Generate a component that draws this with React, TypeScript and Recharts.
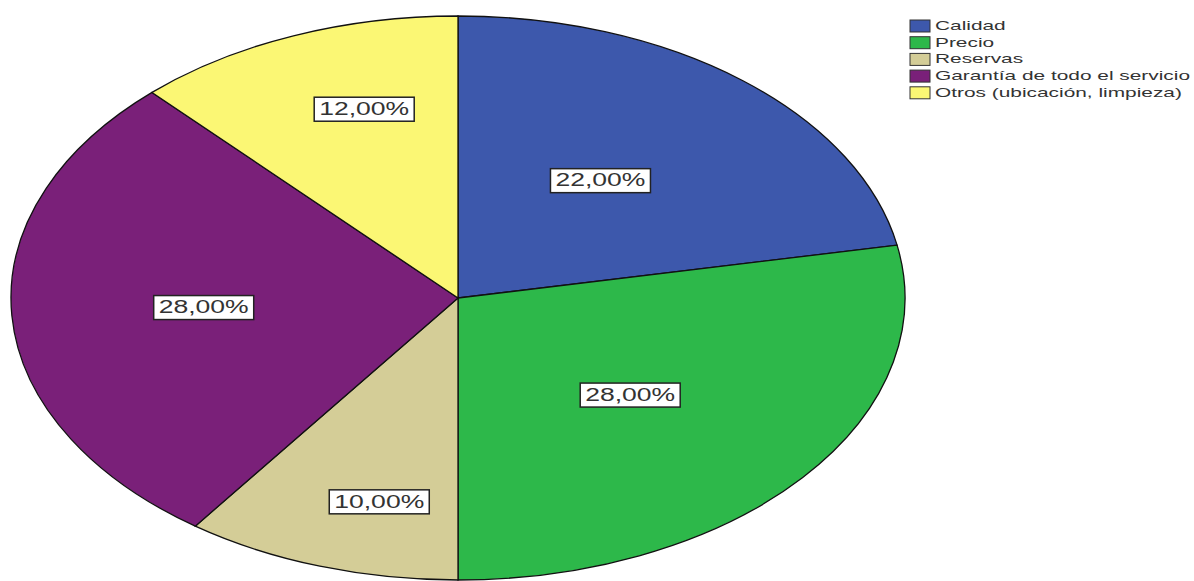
import React from 'react';
import { PieChart, Pie, Cell, Legend } from 'recharts';

const categories = [
  'Calidad',
  'Precio',
  'Reservas',
  'Garantía de todo el servicio',
  'Otros (ubicación, limpieza)',
];
const percents = [22, 28, 10, 28, 12];
const colors = ['#3D58AC', '#2DB84A', '#D4CD97', '#7A2079', '#FBF774'];

const data = categories.map((name, i) => ({ name, value: percents[i] }));

const RAD = Math.PI / 180;
// SPSS draws the pie squashed into an ellipse
const X_STRETCH = 447 / 282;

const EllipseSector = (props: any) => {
  const { cx, cy, outerRadius, startAngle, endAngle, fill } = props;
  const rx = outerRadius * X_STRETCH;
  const ry = outerRadius;
  const pt = (a: number) => [cx + rx * Math.cos(-a * RAD), cy + ry * Math.sin(-a * RAD)];
  const [x1, y1] = pt(startAngle);
  const [x2, y2] = pt(endAngle);
  const large = Math.abs(endAngle - startAngle) > 180 ? 1 : 0;
  const sweep = startAngle > endAngle ? 1 : 0;
  return (
    <path
      d={`M${cx},${cy} L${x1},${y1} A${rx},${ry} 0 ${large} ${sweep} ${x2},${y2} Z`}
      fill={fill}
      stroke="#111"
      strokeWidth={1.3}
    />
  );
};

const renderLabel = (props: any) => {
  const { cx, cy, midAngle, outerRadius, value } = props;
  const p = value / 100;
  const c = Math.cos(-midAngle * RAD);
  const s = Math.sin(-midAngle * RAD);
  // small slices push their label further out, as SPSS does
  const fx = c > 0 ? 0.5 : 0.57;
  const fy = Math.max(0.54, 0.96 - 2 * p);
  const x = cx + outerRadius * X_STRETCH * fx * c;
  const y = cy + outerRadius * fy * s;
  const text = `${value.toFixed(2).replace('.', ',')}%`;
  return (
    <g>
      <rect x={x - 50} y={y - 12} width={100} height={24} fill="#fff" stroke="#222" strokeWidth={1.5} />
      <text
        x={x}
        y={y + 1}
        textAnchor="middle"
        dominantBaseline="middle"
        fontFamily="'Liberation Sans', Arial, sans-serif"
        fontSize={18}
        fill="#333"
        textLength={90}
        lengthAdjust="spacingAndGlyphs"
      >
        {text}
      </text>
    </g>
  );
};

const LegendBox = () => (
  <svg width={289} height={100}>
    {categories.map((c, i) => (
      <g key={c}>
        <rect x={5} y={2 + i * 16.7} width={20} height={12} fill={colors[i]} stroke="#333" strokeWidth={1} />
        <g transform={`translate(30, ${8.5 + i * 16.7}) scale(1.67, 1)`}>
          <text
            x={0}
            y={0}
            dominantBaseline="middle"
            fontFamily="'Liberation Sans', Arial, sans-serif"
            fontSize={12.5}
            fill="#333"
          >
            {c}
          </text>
        </g>
      </g>
    ))}
  </svg>
);

export default function App() {
  return (
    <div style={{ width: 1194, height: 581, background: '#fff', position: 'relative' }}>
      <style>{'body{margin:0;}'}</style>
      <PieChart width={1194} height={581} margin={{ top: 0, right: 0, bottom: 0, left: 0 }}>
        <Pie
          data={data}
          dataKey="value"
          nameKey="name"
          cx={458}
          cy={298}
          outerRadius={282}
          startAngle={90}
          endAngle={-270}
          shape={EllipseSector}
          label={renderLabel}
          labelLine={false}
          isAnimationActive={false}
        >
          {data.map((d, i) => (
            <Cell key={d.name} fill={colors[i]} />
          ))}
        </Pie>
        <Legend
          content={() => <LegendBox />}
          wrapperStyle={{ position: 'absolute', top: 18, left: 905, width: 289 }}
        />
      </PieChart>
    </div>
  );
}
